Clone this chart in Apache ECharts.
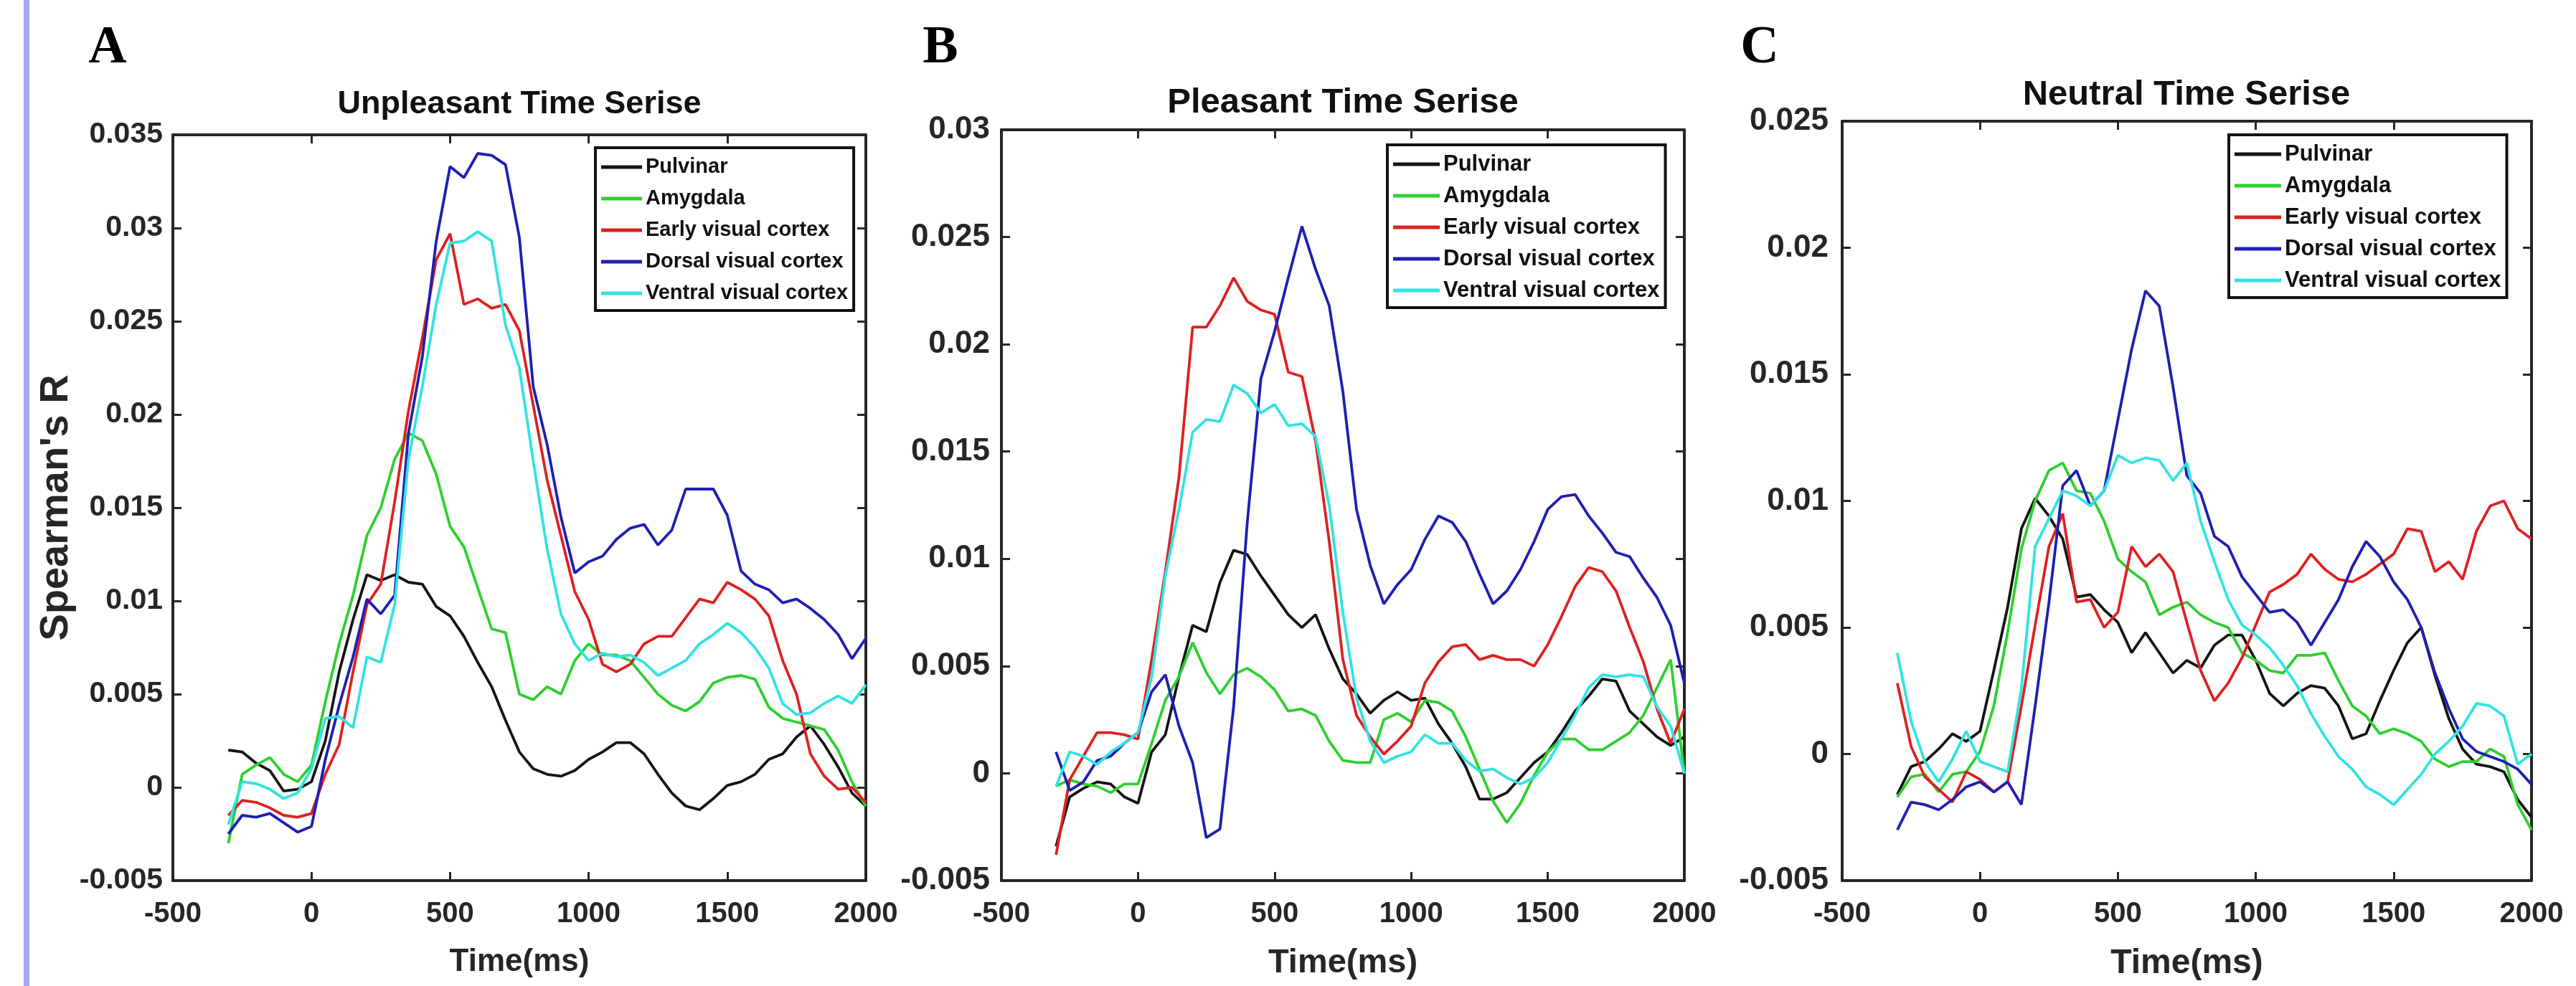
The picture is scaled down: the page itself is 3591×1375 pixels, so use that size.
<!DOCTYPE html>
<html>
<head>
<meta charset="utf-8">
<script src="https://cdn.jsdelivr.net/npm/echarts@6/dist/echarts.min.js"></script>
<style>
  html, body { margin: 0; padding: 0; background: #fff; }
  #main { width: 3591px; height: 1375px; }
</style>
</head>
<body>
<div id="main"></div>
<script>
// time axis (ms), shared by every series
const times = [-300, -250, -200, -150, -100, -50, 0, 50, 100, 150, 200, 250, 300, 350, 400, 450, 500,
  550, 600, 650, 700, 750, 800, 850, 900, 950, 1000, 1050, 1100, 1150, 1200, 1250, 1300, 1350, 1400,
  1450, 1500, 1550, 1600, 1650, 1700, 1750, 1800, 1850, 1900, 1950, 2000];

const regionNames = ['Pulvinar', 'Amygdala', 'Early visual cortex', 'Dorsal visual cortex', 'Ventral visual cortex'];
const panelTitles = ['Unpleasant Time Serise', 'Pleasant Time Serise', 'Neutral Time Serise'];
const panelLetters = ['A', 'B', 'C'];
const xTicks = [-500, 0, 500, 1000, 1500, 2000];
const yMax = [0.035, 0.03, 0.025];

// A - unpleasant
const unpleasantPulvinar = [0.002, 0.0019, 0.0013, 0.0009, -0.0002, -0.0001, 0.0003,
  0.0025, 0.0062, 0.009, 0.0114, 0.0111, 0.0114, 0.011, 0.0109, 0.0097, 0.0092,
  0.0081, 0.0067, 0.0054, 0.0036, 0.0019, 0.001, 0.0007, 0.0006, 0.0009, 0.0015,
  0.0019, 0.0024, 0.0024, 0.0018, 0.0007, -0.0003, -0.001, -0.0012, -0.0006, 0.0001,
  0.0003, 0.0007, 0.0015, 0.0018, 0.0027, 0.0033, 0.0023, 0.0011, -0.0003, -0.001];
const unpleasantAmygdala = [-0.003, 0.0007, 0.0012, 0.0016, 0.0007, 0.0003, 0.0012,
  0.0046, 0.0077, 0.0103, 0.0135, 0.015, 0.0176, 0.019, 0.0186, 0.0168, 0.014,
  0.0129, 0.0107, 0.0085, 0.0083, 0.005, 0.0047, 0.0054, 0.005, 0.0068, 0.0077,
  0.0071, 0.0071, 0.0068, 0.0059, 0.005, 0.0044, 0.0041, 0.0046, 0.0056, 0.0059,
  0.006, 0.0058, 0.0043, 0.0037, 0.0035, 0.0033, 0.0031, 0.002, 0.0003, -0.001];
const unpleasantEarly = [-0.0015, -0.0007, -0.0008, -0.0011, -0.0015, -0.0016, -0.0014,
  0.0007, 0.0023, 0.0062, 0.0098, 0.0109, 0.0153, 0.0202, 0.0241, 0.0283, 0.0297,
  0.0259, 0.0262, 0.0257, 0.0259, 0.0245, 0.0205, 0.0165, 0.0135, 0.0105, 0.009,
  0.0066, 0.0062, 0.0066, 0.0077, 0.0081, 0.0081, 0.0091, 0.0101, 0.0099, 0.011,
  0.0106, 0.0101, 0.0092, 0.0068, 0.005, 0.0018, 0.0006, -0.0001, 0.0, -0.0008];
const unpleasantDorsal = [-0.0025, -0.0015, -0.0016, -0.0014, -0.0019, -0.0024, -0.0021,
  0.0015, 0.0044, 0.007, 0.0101, 0.0093, 0.0103, 0.019, 0.0231, 0.0293, 0.0333,
  0.0327, 0.034, 0.0339, 0.0334, 0.0295, 0.0215, 0.0184, 0.0145, 0.0115, 0.0121,
  0.0124, 0.0133, 0.0139, 0.0141, 0.013, 0.0138, 0.016, 0.016, 0.016, 0.0146,
  0.0116, 0.0109, 0.0106, 0.0099, 0.0101, 0.0096, 0.009, 0.0082, 0.0069, 0.008];
const unpleasantVentral = [-0.002, 0.0003, 0.0002, -0.0001, -0.0006, -0.0003, 0.001,
  0.0037, 0.0038, 0.0032, 0.007, 0.0067, 0.0098, 0.0176, 0.0215, 0.0259, 0.0292,
  0.0293, 0.0298, 0.0293, 0.0248, 0.0225, 0.0175, 0.0128, 0.0093, 0.0077, 0.0068,
  0.0072, 0.007, 0.0071, 0.0067, 0.006, 0.0064, 0.0068, 0.0077, 0.0082, 0.0088,
  0.0083, 0.0075, 0.0064, 0.0045, 0.0039, 0.004, 0.0045, 0.0049, 0.0045, 0.0055];

// B - pleasant
const pleasantPulvinar = [-0.0034, -0.0011, -0.0007, -0.0004, -0.0005, -0.0011, -0.0014,
  0.001, 0.0018, 0.0045, 0.0069, 0.0066, 0.0089, 0.0104, 0.0102, 0.0092, 0.0083,
  0.0074, 0.0068, 0.0074, 0.0058, 0.0044, 0.0037, 0.0028, 0.0034, 0.0038, 0.0034,
  0.0035, 0.0023, 0.0014, 0.0003, -0.0012, -0.0012, -0.0009, -0.0002, 0.0005, 0.001,
  0.0019, 0.0029, 0.0036, 0.0044, 0.0043, 0.0029, 0.0023, 0.0017, 0.0013, 0.0017];
const pleasantAmygdala = [-0.0006, -0.0003, -0.0005, -0.0006, -0.0009, -0.0005, -0.0005,
  0.0014, 0.0034, 0.0045, 0.0061, 0.0047, 0.0037, 0.0046, 0.0049, 0.0045, 0.0039,
  0.0029, 0.003, 0.0027, 0.0015, 0.0006, 0.0005, 0.0005, 0.0025, 0.0028, 0.0024,
  0.0034, 0.0033, 0.0029, 0.0017, 0.0002, -0.0013, -0.0023, -0.0014, -0.0001, 0.001,
  0.0016, 0.0016, 0.0011, 0.0011, 0.0015, 0.0019, 0.0027, 0.004, 0.0053, 0.0];
const pleasantEarly = [-0.0038, -0.0003, 0.0008, 0.0019, 0.0019, 0.0018, 0.0016,
  0.0053, 0.0094, 0.0138, 0.0208, 0.0208, 0.0218, 0.0231, 0.022, 0.0216, 0.0214,
  0.0187, 0.0185, 0.0155, 0.0108, 0.0053, 0.0027, 0.0017, 0.0009, 0.0015, 0.0022,
  0.0042, 0.0052, 0.0059, 0.006, 0.0053, 0.0055, 0.0053, 0.0053, 0.005, 0.006,
  0.0073, 0.0087, 0.0096, 0.0094, 0.0085, 0.0068, 0.0052, 0.003, 0.0014, 0.003];
const pleasantDorsal = [0.001, -0.0008, -0.0004, 0.0006, 0.0008, 0.0014, 0.0019,
  0.0038, 0.0046, 0.0022, 0.0005, -0.003, -0.0026, 0.0031, 0.0117, 0.0184, 0.0206,
  0.0231, 0.0255, 0.0235, 0.0218, 0.0178, 0.0123, 0.0097, 0.0079, 0.0088, 0.0095,
  0.0109, 0.012, 0.0117, 0.0108, 0.0093, 0.0079, 0.0085, 0.0095, 0.0108, 0.0123,
  0.0129, 0.013, 0.012, 0.0112, 0.0103, 0.0101, 0.0091, 0.0082, 0.0069, 0.0042];
const pleasantVentral = [-0.0006, 0.001, 0.0008, 0.0004, 0.001, 0.0014, 0.0019,
  0.0045, 0.0092, 0.0123, 0.0159, 0.0165, 0.0164, 0.0181, 0.0177, 0.0168, 0.0172,
  0.0162, 0.0163, 0.0157, 0.0125, 0.0075, 0.0035, 0.0015, 0.0005, 0.0008, 0.001,
  0.0018, 0.0014, 0.0014, 0.0006, 0.0001, 0.0002, -0.0002, -0.0005, -0.0002, 0.0005,
  0.0016, 0.0027, 0.004, 0.0046, 0.0045, 0.0046, 0.0045, 0.0031, 0.0022, 0.0];

// C - neutral
const neutralPulvinar = [-0.0016, -0.0005, -0.0003, 0.0002, 0.0008, 0.0005, 0.0009,
  0.0033, 0.0058, 0.0089, 0.0101, 0.0094, 0.0085, 0.0062, 0.0063, 0.0057, 0.0052,
  0.004, 0.0048, 0.004, 0.0032, 0.0037, 0.0034, 0.0043, 0.0047, 0.0047, 0.0037,
  0.0024, 0.0019, 0.0024, 0.0027, 0.0026, 0.0019, 0.0006, 0.0008, 0.0021, 0.0033,
  0.0044, 0.005, 0.0031, 0.0014, 0.0002, -0.0004, -0.0005, -0.0007, -0.0018, -0.0025];
const neutralAmygdala = [-0.0017, -0.0009, -0.0008, -0.0015, -0.0008, -0.0007, 0.0001,
  0.0019, 0.0048, 0.0081, 0.01, 0.0112, 0.0115, 0.0104, 0.0103, 0.0092, 0.0077,
  0.0072, 0.0068, 0.0055, 0.0058, 0.006, 0.0055, 0.0052, 0.005, 0.004, 0.0037,
  0.0033, 0.0032, 0.0039, 0.0039, 0.004, 0.0029, 0.0019, 0.0015, 0.0008, 0.001,
  0.0008, 0.0005, -0.0002, -0.0005, -0.0003, -0.0003, 0.0002, -0.0001, -0.002, -0.003];
const neutralEarly = [0.0028, 0.0003, -0.0009, -0.0014, -0.0019, -0.0007, -0.001,
  -0.0015, -0.0011, 0.0019, 0.0051, 0.0082, 0.0095, 0.006, 0.0061, 0.005, 0.0056,
  0.0082, 0.0074, 0.0079, 0.0072, 0.0052, 0.0033, 0.0021, 0.0028, 0.0038, 0.0051,
  0.0064, 0.0067, 0.0071, 0.0079, 0.0073, 0.0069, 0.0068, 0.0071, 0.0075, 0.0079,
  0.0089, 0.0088, 0.0072, 0.0076, 0.0069, 0.0088, 0.0098, 0.01, 0.0089, 0.0085];
const neutralDorsal = [-0.003, -0.0019, -0.002, -0.0022, -0.0018, -0.0013, -0.0011,
  -0.0015, -0.0011, -0.002, 0.0019, 0.006, 0.0106, 0.0112, 0.0098, 0.0104, 0.0132,
  0.016, 0.0183, 0.0177, 0.0145, 0.011, 0.0103, 0.0086, 0.0082, 0.007, 0.0063,
  0.0056, 0.0057, 0.0052, 0.0043, 0.0052, 0.0061, 0.0074, 0.0084, 0.0078, 0.0068,
  0.0061, 0.005, 0.0032, 0.0018, 0.0006, 0.0001, -0.0001, -0.0003, -0.0006, -0.0012];
const neutralVentral = [0.004, 0.0013, -0.0003, -0.0011, -0.0002, 0.0009, -0.0003,
  -0.0005, -0.0007, 0.0026, 0.0082, 0.0093, 0.0104, 0.0102, 0.0098, 0.0104, 0.0118,
  0.0115, 0.0117, 0.0116, 0.0108, 0.0115, 0.0092, 0.0076, 0.0061, 0.0051, 0.0047,
  0.0042, 0.0035, 0.0027, 0.0016, 0.0007, -0.0001, -0.0006, -0.0013, -0.0016, -0.002,
  -0.0014, -0.0008, 0.0, 0.0005, 0.0011, 0.002, 0.0019, 0.0015, -0.0004, 0.0];

const panels = [
  [unpleasantPulvinar, unpleasantAmygdala, unpleasantEarly, unpleasantDorsal, unpleasantVentral],
  [pleasantPulvinar, pleasantAmygdala, pleasantEarly, pleasantDorsal, pleasantVentral],
  [neutralPulvinar, neutralAmygdala, neutralEarly, neutralDorsal, neutralVentral]
];

const lineColors = ['#141414', '#2fcf2f', '#de2121', '#1f1fb0', '#33e2e2'];
const axisColor = '#262626';
const sans = '"Liberation Sans", Arial, Helvetica, sans-serif';

// plot boxes in px
const grids = [
  { left: 241, top: 188, width: 966, height: 1040 },
  { left: 1396, top: 181, width: 952, height: 1047 },
  { left: 2568, top: 169, width: 961, height: 1059 }
];
const xFont = [40, 40, 40];
const yFont = [41, 44, 44];
const yMargin = [14, 16, 19];
const nameFont = [44, 47, 48];
const legendPos = [
  { left: 830, top: 206, font: 29, icon: 57 },
  { left: 1934, top: 202, font: 31, icon: 65 },
  { left: 3107, top: 188, font: 31, icon: 65 }
];
const titlePos = [
  { x: 724, top: 123, font: 45 },
  { x: 1872, top: 119, font: 49 },
  { x: 3048, top: 108, font: 49 }
];
const letterPos = [{ x: 150, y: 68 }, { x: 1311, y: 68 }, { x: 2453, y: 68 }];

const myChart = echarts.init(document.getElementById('main'), null, { renderer: 'canvas' });

const axisLine = { show: true, onZero: false, lineStyle: { color: axisColor, width: 4 } };
const axisTick = { show: true, inside: true, length: 12, lineStyle: { color: axisColor, width: 3 } };

let xAxis = [], yAxis = [], series = [], legend = [], title = [];

grids.forEach((g, p) => {
  xAxis.push({
    type: 'value', gridIndex: p, position: 'bottom', min: -500, max: 2000, interval: 500,
    axisLine, axisTick, splitLine: { show: false },
    axisLabel: { color: axisColor, fontSize: xFont[p], fontWeight: 'bold', fontFamily: sans, margin: 27,
      formatter: v => String(v) },
    name: 'Time(ms)', nameLocation: 'middle', nameGap: 92,
    nameTextStyle: { color: axisColor, fontSize: nameFont[p], fontWeight: 'bold', fontFamily: sans }
  });
  xAxis.push({
    type: 'value', gridIndex: p, position: 'top', min: -500, max: 2000, interval: 500,
    axisLine, axisTick, axisLabel: { show: false }, splitLine: { show: false }
  });
  const yLeft = {
    type: 'value', gridIndex: p, position: 'left', min: -0.005, max: yMax[p], interval: 0.005,
    axisLine, axisTick, splitLine: { show: false },
    axisLabel: { color: axisColor, fontSize: yFont[p], fontWeight: 'bold', fontFamily: sans, margin: yMargin[p],
      formatter: v => String(Math.round(v * 1000) / 1000) }
  };
  if (p === 0) {
    yLeft.name = "Spearman's R";
    yLeft.nameLocation = 'middle';
    yLeft.nameGap = 132;
    yLeft.nameRotate = 90;
    yLeft.nameTextStyle = { color: axisColor, fontSize: 56, fontWeight: 'bold', fontFamily: sans };
  }
  yAxis.push(yLeft);
  yAxis.push({
    type: 'value', gridIndex: p, position: 'right', min: -0.005, max: yMax[p], interval: 0.005,
    axisLine, axisTick, axisLabel: { show: false }, splitLine: { show: false }
  });

  panels[p].forEach((vals, k) => {
    series.push({
      name: regionNames[k],
      type: 'line',
      xAxisIndex: p * 2,
      yAxisIndex: p * 2,
      symbol: 'none',
      lineStyle: { color: lineColors[k], width: 3.8 },
      itemStyle: { color: lineColors[k] },
      data: times.map((t, i) => [t, vals[i]])
    });
  });

  const lp = legendPos[p];
  legend.push({
    data: regionNames,
    orient: 'vertical',
    align: 'left',
    left: lp.left,
    top: lp.top,
    icon: 'rect',
    itemWidth: lp.icon,
    itemHeight: 5,
    itemGap: 12,
    padding: [11, 8, 8, 8],
    backgroundColor: '#fff',
    borderColor: '#111',
    borderWidth: 4,
    borderRadius: 0,
    selectedMode: false,
    textStyle: { color: '#111', fontSize: lp.font, fontWeight: 'bold', fontFamily: sans, lineHeight: 32 }
  });

  const tp = titlePos[p];
  title.push({
    text: panelTitles[p],
    left: tp.x,
    top: tp.top,
    textAlign: 'center',
    padding: 0,
    textStyle: { color: '#111', fontSize: tp.font, fontWeight: 'bold', fontFamily: sans }
  });
});

const graphic = [
  { type: 'rect', left: 33, top: 0, shape: { width: 8, height: 1375 }, style: { fill: '#a6a6ee' } }
];
letterPos.forEach((lp, p) => {
  graphic.push({
    type: 'text', x: lp.x, y: lp.y,
    style: { text: panelLetters[p], fill: '#000', font: 'bold 74px "Liberation Serif", "Times New Roman", serif',
      textAlign: 'center', textVerticalAlign: 'middle' }
  });
});

myChart.setOption({
  animation: false,
  backgroundColor: '#fff',
  title,
  legend,
  grid: grids.map(g => Object.assign({ containLabel: false }, g)),
  xAxis,
  yAxis,
  series,
  graphic
});
</script>
</body>
</html>
